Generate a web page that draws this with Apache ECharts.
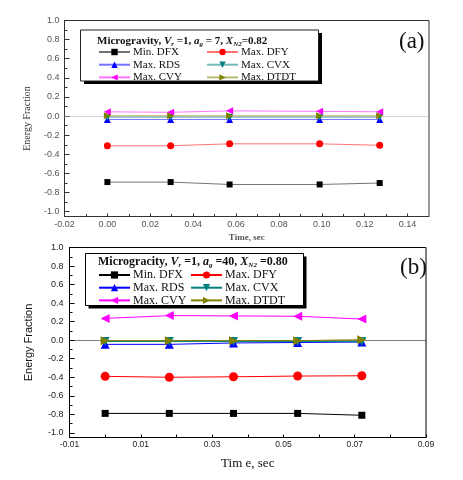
<!DOCTYPE html>
<html>
<head>
<meta charset="utf-8">
<script src="https://cdn.jsdelivr.net/npm/echarts@6/dist/echarts.min.js"></script>
<style>
  html, body { margin: 0; padding: 0; background: #fff; }
  #chart { width: 463px; height: 480px; }
</style>
</head>
<body>
<div id="chart"></div>
<script>
// chart (a)
var timeA = [0, 0.0295, 0.057, 0.099, 0.127];
var dfxA = [-0.69, -0.69, -0.715, -0.715, -0.70];
var dfyA = [-0.31, -0.31, -0.29, -0.29, -0.305];
var rdsA = [-0.035, -0.035, -0.035, -0.035, -0.035];
var cvxA = [-0.012, -0.012, -0.012, -0.012, -0.012];
var cvyA = [0.045, 0.04, 0.055, 0.05, 0.045];
var dtdtA = [0.004, 0.004, 0.004, 0.004, 0.004];

// chart (b)
var timeB = [0, 0.018, 0.036, 0.054, 0.072];
var dfxB = [-0.79, -0.79, -0.79, -0.79, -0.81];
var dfyB = [-0.39, -0.40, -0.395, -0.387, -0.384];
var rdsB = [-0.045, -0.045, -0.03, -0.025, -0.02];
var cvxB = [-0.015, -0.015, -0.015, -0.015, -0.015];
var cvyB = [0.235, 0.265, 0.262, 0.258, 0.228];
var dtdtB = [-0.005, -0.005, -0.005, -0.005, 0.005];

// ticks
var yTicks = [-1.0, -0.8, -0.6, -0.4, -0.2, 0, 0.2, 0.4, 0.6, 0.8, 1.0];
var yMinor = [-0.9, -0.7, -0.5, -0.3, -0.1, 0.1, 0.3, 0.5, 0.7, 0.9];
var xTicksA = [-0.02, 0, 0.02, 0.04, 0.06, 0.08, 0.10, 0.12, 0.14];
var xMinorA = [-0.01, 0.01, 0.03, 0.05, 0.07, 0.09, 0.11, 0.13];
var xTicksB = [-0.01, 0.01, 0.03, 0.05, 0.07, 0.09];
var xMinorB = [0, 0.02, 0.04, 0.06, 0.08];

var names = ['Min. DFX', 'Max. DFY', 'Max. RDS', 'Max. CVX', 'Max. CVY', 'Max. DTDT'];
var colors = ['#000000', '#ff0000', '#0000ff', '#008080', '#ff00ff', '#808000'];
var symbols = ['rect', 'circle', 'triangle', 'triangle', 'triangle', 'triangle'];
var rotates = [0, 0, 0, 180, 90, -90];

var seriesA = [dfxA, dfyA, rdsA, cvxA, cvyA, dtdtA];
var seriesB = [dfxB, dfyB, rdsB, cvxB, cvyB, dtdtB];

function pairs(xs, ys) {
    return xs.map(function (x, i) { return [x, ys[i]]; });
}

var serif = '"Liberation Serif", "DejaVu Serif", serif';
var sans = '"Liberation Sans", Arial, sans-serif';

var myChart = echarts.init(document.getElementById('chart'));

function makeSeries(prefix, xs, list, gridIdx, sizes, lineOpacity, zeroColor) {
    return list.map(function (ys, k) {
        var s = {
            name: prefix + names[k],
            type: 'line',
            xAxisIndex: gridIdx * 2,
            yAxisIndex: gridIdx * 2,
            data: pairs(xs, ys),
            symbol: symbols[k],
            symbolRotate: rotates[k],
            symbolSize: sizes[k],
            showAllSymbol: true,
            animation: false,
            itemStyle: {color: colors[k]},
            lineStyle: {color: colors[k], width: 1, opacity: lineOpacity},
            z: 5 + k
        };
        if (k === 0) {
            s.markLine = {
                silent: true,
                symbol: 'none',
                label: {show: false},
                lineStyle: {type: 'dotted', color: zeroColor, width: 1, opacity: 1},
                data: [{yAxis: 0}]
            };
        }
        return s;
    });
}

function legendCol(prefix, idxs, left, top, itemH, fontSize, gap) {
    return {
        orient: 'vertical',
        left: left,
        top: top,
        padding: 0,
        itemWidth: 31,
        itemHeight: itemH,
        itemGap: gap,
        selectedMode: false,
        data: idxs.map(function (k) { return prefix + names[k]; }),
        formatter: function (n) { return n.slice(prefix.length); },
        textStyle: {fontFamily: serif, fontSize: fontSize, color: '#111', lineHeight: 12.7 - gap, padding: [0, 0, 0, -2]}
    };
}

function richStyles(size) {
    return {
        b: {fontFamily: serif, fontWeight: 'bold', fontSize: size, color: '#111', lineHeight: 14},
        i: {fontFamily: serif, fontWeight: 'bold', fontStyle: 'italic', fontSize: size, color: '#111', lineHeight: 14},
        s: {fontFamily: serif, fontWeight: 'bold', fontStyle: 'italic', fontSize: 7, color: '#111', lineHeight: 14, verticalAlign: 'bottom'}
    };
}

var option = {
    backgroundColor: '#fff',
    title: [
        {
            text: '{b|Microgravity, }{i|V}{s|r}{b| =1, }{i|a}{s|g}{b| = 7, }{i|X}{s|N2}{b|=0.82}',
            left: 97, top: 34, padding: 0,
            textStyle: {rich: richStyles(11)}
        },
        {
            text: '{b|Micrograсity, }{i|V}{s|r}{b| =1, }{i|a}{s|g}{b| =40, }{i|X}{s|N2}{b| =0.80}',
            left: 98, top: 255, padding: 0,
            textStyle: {rich: richStyles(12)}
        }
    ],
    graphic: [
        {type: 'rect', shape: {x: 84, y: 33, width: 238, height: 51}, style: {fill: '#000'}, z: 3},
        {type: 'rect', shape: {x: 80.5, y: 30, width: 238, height: 51}, style: {fill: '#fff', stroke: '#222', lineWidth: 1}, z: 3},
        {type: 'rect', shape: {x: 88.5, y: 256.5, width: 218, height: 52}, style: {fill: '#000'}, z: 3},
        {type: 'rect', shape: {x: 85.5, y: 253.5, width: 218, height: 52}, style: {fill: '#fff', stroke: '#000', lineWidth: 1}, z: 3},
        {type: 'text', left: 399, top: 30, style: {text: '(a)', fontFamily: serif, fontSize: 23, fill: '#111'}, z: 10},
        {type: 'text', left: 400, top: 256, style: {text: '(b)', fontFamily: serif, fontSize: 23, fill: '#111'}, z: 10}
    ],
    legend: [
        legendCol('a:', [0, 2, 4], 98, 46, 8, 11, 0.7),
        legendCol('a:', [1, 3, 5], 206, 46, 8, 11, 0.7),
        legendCol('b:', [0, 2, 4], 98, 269, 9, 12, 0.7),
        legendCol('b:', [1, 3, 5], 190, 269, 9, 12, 0.7)
    ],
    grid: [
        {left: 64.5, right: 34, top: 20.5, bottom: 263.5, show: true, borderColor: '#333', borderWidth: 1, backgroundColor: 'transparent'},
        {left: 69.5, right: 37, top: 247.5, bottom: 42.5, show: true, borderColor: '#000', borderWidth: 1, backgroundColor: 'transparent'}
    ],
    xAxis: [
        {
            type: 'value', gridIndex: 0, min: -0.02, max: 0.15, position: 'bottom',
            name: 'Time, sec', nameLocation: 'middle', nameGap: 17,
            nameTextStyle: {fontFamily: serif, fontWeight: 'bold', fontSize: 9, color: '#555'},
            axisLine: {onZero: false, lineStyle: {color: '#333'}},
            axisTick: {inside: true, length: 3, lineStyle: {color: '#333'}, customValues: xTicksA},
            axisLabel: {customValues: xTicksA, margin: 4, fontFamily: sans, fontSize: 9, color: '#555',
                formatter: function (v) { return v.toFixed(2); }},
            splitLine: {show: false}
        },
        {
            type: 'value', gridIndex: 0, min: -0.02, max: 0.15, position: 'bottom', offset: 0,
            axisLine: {show: false, onZero: false},
            axisTick: {inside: true, length: 2.5, lineStyle: {color: '#333'}, customValues: xMinorA},
            axisLabel: {show: false},
            splitLine: {show: false}
        },
        {
            type: 'value', gridIndex: 1, min: -0.01, max: 0.09, position: 'bottom',
            name: 'Tim e, sec', nameLocation: 'middle', nameGap: 20,
            nameTextStyle: {fontFamily: serif, fontSize: 13, color: '#111'},
            axisLine: {onZero: false, lineStyle: {color: '#000'}},
            axisTick: {inside: true, length: 3, lineStyle: {color: '#000'}, customValues: xTicksB},
            axisLabel: {customValues: xTicksB, margin: 3, fontFamily: sans, fontSize: 8.5, color: '#222',
                formatter: function (v) { return v.toFixed(2); }},
            splitLine: {show: false}
        },
        {
            type: 'value', gridIndex: 1, min: -0.01, max: 0.09, position: 'bottom', offset: 0,
            axisLine: {show: false, onZero: false},
            axisTick: {inside: true, length: 3, lineStyle: {color: '#000'}, customValues: xMinorB},
            axisLabel: {show: false},
            splitLine: {show: false}
        }
    ],
    yAxis: [
        {
            type: 'value', gridIndex: 0, min: -1.05, max: 1.0, position: 'left',
            name: 'Energy Fraction', nameLocation: 'middle', nameGap: 32, nameRotate: 90,
            nameTextStyle: {fontFamily: serif, fontSize: 10, color: '#333'},
            axisLine: {onZero: false, lineStyle: {color: '#333'}},
            axisTick: {inside: true, length: 5, lineStyle: {color: '#333'}, customValues: yTicks},
            axisLabel: {customValues: yTicks, margin: 5, fontFamily: sans, fontSize: 9, color: '#555',
                formatter: function (v) { return v.toFixed(1); }},
            splitLine: {show: false}
        },
        {
            type: 'value', gridIndex: 0, min: -1.05, max: 1.0, position: 'left', offset: 0,
            axisLine: {show: false, onZero: false},
            axisTick: {inside: true, length: 3, lineStyle: {color: '#333'}, customValues: yMinor},
            axisLabel: {show: false},
            splitLine: {show: false}
        },
        {
            type: 'value', gridIndex: 1, min: -1.05, max: 1.0, position: 'left',
            name: 'Energy Fraction', nameLocation: 'middle', nameGap: 35, nameRotate: 90,
            nameTextStyle: {fontFamily: sans, fontSize: 11, color: '#111'},
            axisLine: {onZero: false, lineStyle: {color: '#000'}},
            axisTick: {inside: true, length: 5, lineStyle: {color: '#000'}, customValues: yTicks},
            axisLabel: {customValues: yTicks, margin: 6, fontFamily: sans, fontSize: 9, color: '#222',
                formatter: function (v) { return v.toFixed(1); }},
            splitLine: {show: false}
        },
        {
            type: 'value', gridIndex: 1, min: -1.05, max: 1.0, position: 'left', offset: 0,
            axisLine: {show: false, onZero: false},
            axisTick: {inside: true, length: 3, lineStyle: {color: '#000'}, customValues: yMinor},
            axisLabel: {show: false},
            splitLine: {show: false}
        }
    ],
    series: [].concat(
        makeSeries('a:', timeA, seriesA, 0, [6, 7, 7, 7, 7, 7], 0.55, '#aaa'),
        makeSeries('b:', timeB, seriesB, 1, [7, 9, 9, 9, 9, 9], 1, '#000')
    )
};

myChart.setOption(option);
</script>
</body>
</html>
